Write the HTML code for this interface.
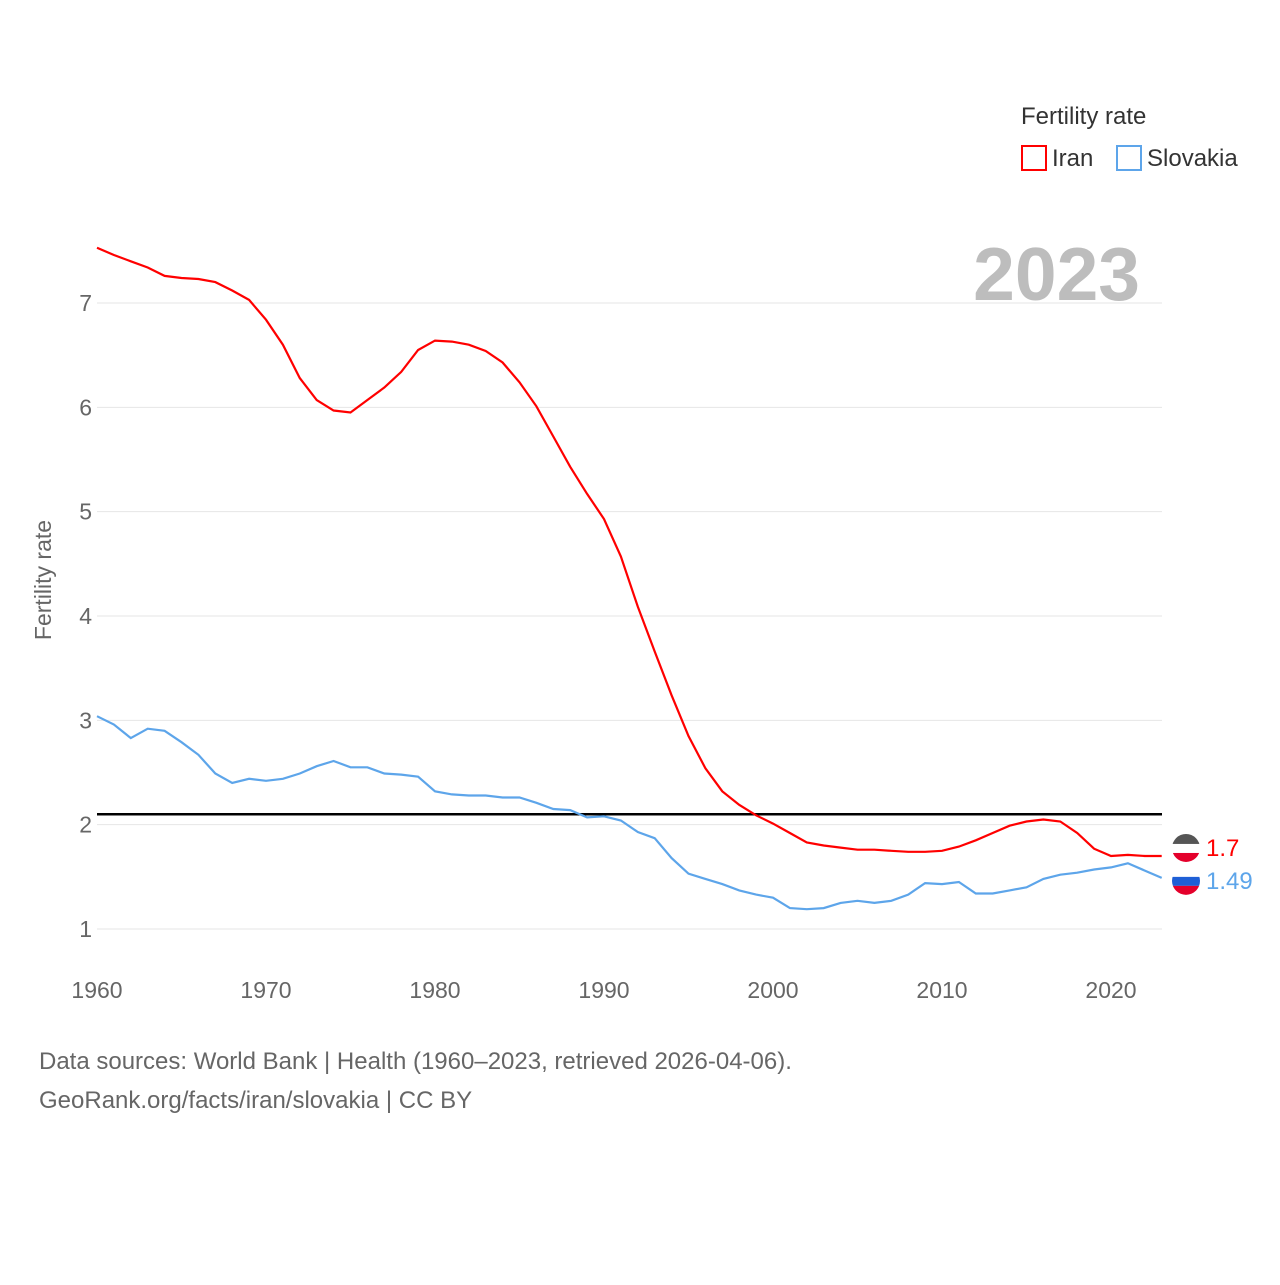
<!DOCTYPE html>
<html><head><meta charset="utf-8"><style>
body{margin:0;background:#fff;}
svg text{font-family:"Liberation Sans",sans-serif;}
</style></head><body>
<svg id="chart" width="1280" height="1280" xmlns="http://www.w3.org/2000/svg">
<rect width="1280" height="1280" fill="#fff"/>
<g id="grid"></g>
<g id="yticks"></g>
<g id="xticks"></g>
<text x="1140" y="300" text-anchor="end" font-size="75" font-weight="bold" fill="#bdbdbd">2023</text>
<text transform="translate(51,580) rotate(-90)" text-anchor="middle" font-size="23" fill="#666">Fertility rate</text>
<g id="series"></g>
<g>
<text x="1021" y="124" font-size="24" fill="#333">Fertility rate</text>
<g><rect x="1022" y="146" width="24" height="24" fill="none" stroke="#f00" stroke-width="2"/><text x="1052" y="166" font-size="24" fill="#333">Iran</text></g>
<g><rect x="1117" y="146" width="24" height="24" fill="none" stroke="#5da5ea" stroke-width="2"/><text x="1147" y="166" font-size="24" fill="#333">Slovakia</text></g>
</g>
<text x="39" y="1069" font-size="24" fill="#666">Data sources: World Bank | Health (1960–2023, retrieved 2026-04-06).</text>
<text x="39" y="1108" font-size="24" fill="#666">GeoRank.org/facts/iran/slovakia | CC BY</text>
</svg>
<script>
const years=[];for(let y=1960;y<=2023;y++)years.push(y);
const iran=[7.53,7.46,7.40,7.34,7.26,7.24,7.23,7.20,7.12,7.03,6.84,6.60,6.28,6.07,5.97,5.95,6.07,6.19,6.34,6.55,6.64,6.63,6.60,6.54,6.43,6.24,6.01,5.72,5.43,5.17,4.93,4.57,4.09,3.66,3.24,2.85,2.54,2.32,2.19,2.09,2.01,1.92,1.83,1.80,1.78,1.76,1.76,1.75,1.74,1.74,1.75,1.79,1.85,1.92,1.99,2.03,2.05,2.03,1.92,1.77,1.70,1.71,1.70,1.70];
const slovakia=[3.04,2.96,2.83,2.92,2.90,2.79,2.67,2.49,2.40,2.44,2.42,2.44,2.49,2.56,2.61,2.55,2.55,2.49,2.48,2.46,2.32,2.29,2.28,2.28,2.26,2.26,2.21,2.15,2.14,2.07,2.08,2.04,1.93,1.87,1.68,1.53,1.48,1.43,1.37,1.33,1.30,1.20,1.19,1.20,1.25,1.27,1.25,1.27,1.33,1.44,1.43,1.45,1.34,1.34,1.37,1.40,1.48,1.52,1.54,1.57,1.59,1.63,1.56,1.49];
const yTicks=[1,2,3,4,5,6,7];
const xTicks=[1960,1970,1980,1990,2000,2010,2020];
const replacement=2.1;
const X=y=>97+(y-1960)*(1111-97)/60;
const Y=v=>929-(v-1)*(929-303)/6;
const NS="http://www.w3.org/2000/svg";
function mk(tag,attrs,parent){const e=document.createElementNS(NS,tag);for(const k in attrs)e.setAttribute(k,attrs[k]);parent.appendChild(e);return e;}
const svg=document.getElementById('chart');
const defs=mk('defs',{},svg);
const grid=document.getElementById('grid'),yt=document.getElementById('yticks'),xt=document.getElementById('xticks'),ser=document.getElementById('series');
yTicks.forEach(v=>{
 const l=mk('line',{x1:97,x2:1162,y1:Y(v),y2:Y(v),stroke:'#e6e6e6','stroke-width':1},grid);
 
 
 const t=mk('text',{x:92,y:Y(v)+8,'text-anchor':'end','font-size':23,fill:'#666'},yt);t.textContent=v;
 
 
});
xTicks.forEach(v=>{
 const t=mk('text',{x:X(v),y:998,'text-anchor':'middle','font-size':23,fill:'#666'},xt);t.textContent=v;
 
 
});
const ref=mk('line',{x1:97,x2:1162,y1:Y(replacement),y2:Y(replacement),stroke:'#000','stroke-width':2.5},ser);


function line(vals,color,name){
 const d=vals.map((v,i)=>(i?'L':'M')+X(years[i]).toFixed(1)+','+Y(v).toFixed(1)).join('');
 const p=mk('path',{d:d,fill:'none',stroke:color,'stroke-width':2.2},ser);
 
 
}
line(iran,'#f00','iran');
line(slovakia,'#5da5ea','slovakia');
function endLabel(vals,color,name,dy,bands){
 const v=vals[vals.length-1],ly=Y(v)+dy;
 const cp=mk('clipPath',{id:'clip-'+name},defs);
 mk('circle',{cx:1186,cy:ly,r:14},cp);
 const g=mk('g',{'clip-path':'url(#clip-'+name+')'},ser);
 
 
 mk('rect',{x:1172,y:ly-14,width:28,height:10,fill:bands[0]},g);
 mk('rect',{x:1172,y:ly-4,width:28,height:9,fill:bands[1]},g);
 mk('rect',{x:1172,y:ly+5,width:28,height:10,fill:bands[2]},g);
 const t=mk('text',{x:1206,y:ly+8,'font-size':24,fill:color},ser);t.textContent=v;
 
 
}
endLabel(iran,'#f00','iran',-8,['#555','#fff','#e4002b']);
endLabel(slovakia,'#5da5ea','slovakia',3,['#fff','#1e5fd6','#e4002b']);
</script>
</body></html>
